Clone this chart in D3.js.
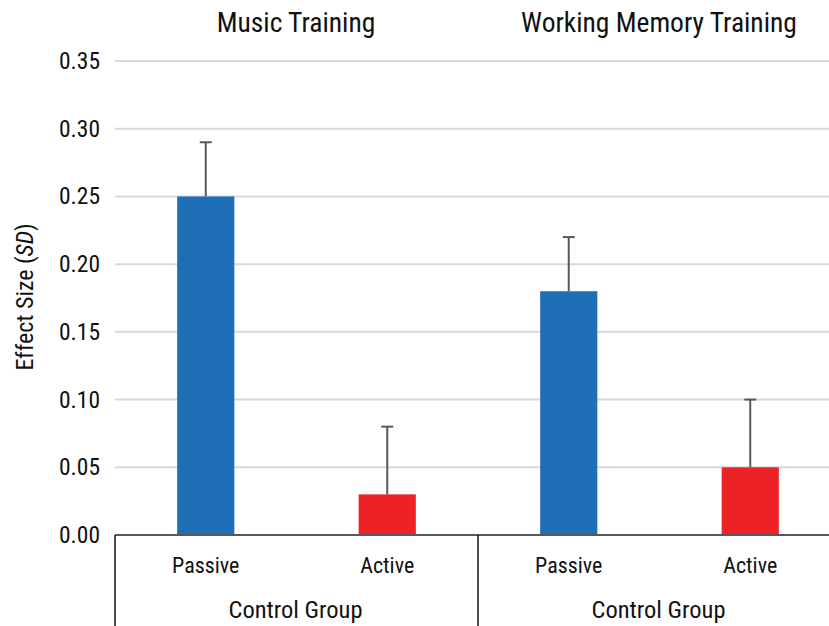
<!DOCTYPE html>
<html><head><meta charset="utf-8">
<script src="https://cdn.jsdelivr.net/npm/d3@7"></script>
<style>
body{margin:0;background:#fff;}
svg{display:block;font-family:"Liberation Sans Narrow","Arial Narrow","Roboto Condensed",sans-serif;}
</style></head>
<body>
<svg id="chart" width="829" height="626"></svg>
<script>
const panels = ["Music Training", "Working Memory Training"];
const conditions = ["Passive", "Active"];
const groupLabel = "Control Group";
const musicValues = [0.25, 0.03];
const musicErrors = [0.04, 0.05];
const wmValues = [0.18, 0.05];
const wmErrors = [0.04, 0.05];
const yTicks = [0, 0.05, 0.10, 0.15, 0.20, 0.25, 0.30, 0.35];
const colors = ["#1f6fb8", "#ec2227"];

const data = [];
[[musicValues, musicErrors], [wmValues, wmErrors]].forEach((pair, p) => {
  conditions.forEach((c, i) => data.push({panel: panels[p], cond: c, value: pair[0][i], err: pair[1][i], color: colors[i]}));
});

const svg = d3.select("#chart");
const mLeft = 115, mRight = 841, mTop = 61, mBottom = 535;

const y = d3.scaleLinear().domain([0, 0.35]).range([mBottom, mTop]);
const xPanel = d3.scaleBand().domain(panels).range([mLeft, mRight]);
const xCond = d3.scaleBand().domain(conditions).range([0, xPanel.bandwidth()]).paddingInner(0.685).paddingOuter(0.3425);

// gridlines
svg.append("g").selectAll("line").data(yTicks.slice(1)).join("line")
  .attr("x1", mLeft).attr("x2", mRight)
  .attr("y1", d => y(d)).attr("y2", d => y(d))
  .attr("stroke", "#d9d9d9").attr("stroke-width", 2);

// y axis labels
const yAxis = d3.axisLeft(y).tickValues(yTicks).tickFormat(d3.format(".2f")).tickSize(0).tickPadding(15);
const ya = svg.append("g").attr("transform", `translate(${mLeft},0)`).call(yAxis);
ya.select(".domain").remove();
ya.attr("font-family", null).attr("font-size", null);
ya.selectAll("text").attr("font-size", 23.5).attr("fill", "#111");

// bars
const xPos = d => xPanel(d.panel) + xCond(d.cond);
svg.append("g").selectAll("rect").data(data).join("rect")
  .attr("x", xPos).attr("width", xCond.bandwidth())
  .attr("y", d => y(d.value)).attr("height", d => y(0) - y(d.value))
  .attr("fill", d => d.color);

// error bars
const eb = svg.append("g").attr("stroke", "#595959").attr("stroke-width", 2);
data.forEach(d => {
  const cx = xPos(d) + xCond.bandwidth() / 2;
  eb.append("line").attr("x1", cx).attr("x2", cx).attr("y1", y(d.value)).attr("y2", y(d.value + d.err));
  eb.append("line").attr("x1", cx - 6).attr("x2", cx + 6).attr("y1", y(d.value + d.err)).attr("y2", y(d.value + d.err));
});

// baseline
svg.append("line").attr("x1", mLeft).attr("x2", mRight).attr("y1", y(0)).attr("y2", y(0))
  .attr("stroke", "#595959").attr("stroke-width", 2);

// category dividers
svg.append("g").selectAll("line").data(panels).join("line")
  .attr("x1", d => xPanel(d)).attr("x2", d => xPanel(d))
  .attr("y1", y(0)).attr("y2", 626)
  .attr("stroke", "#111").attr("stroke-width", 1.5);

// condition labels
svg.append("g").selectAll("text").data(data).join("text")
  .attr("x", d => xPos(d) + xCond.bandwidth() / 2).attr("y", 573)
  .attr("text-anchor", "middle").attr("font-size", 22).attr("fill", "#111")
  .text(d => d.cond);

// group labels
svg.append("g").selectAll("text").data(panels).join("text")
  .attr("x", d => xPanel(d) + xPanel.bandwidth() / 2 - 1).attr("y", 618)
  .attr("text-anchor", "middle").attr("font-size", 24.5).attr("fill", "#111")
  .text(groupLabel);

// panel titles
svg.append("g").selectAll("text").data(panels).join("text")
  .attr("x", d => xPanel(d) + xPanel.bandwidth() / 2 - 0.5).attr("y", 32)
  .attr("text-anchor", "middle").attr("font-size", 27.5).attr("fill", "#111")
  .text(d => d);

// y label
const yl = svg.append("text").attr("transform", "translate(33,297) rotate(-90)")
  .attr("text-anchor", "middle").attr("font-size", 24).attr("fill", "#111");
yl.append("tspan").text("Effect Size (");
yl.append("tspan").attr("font-style", "italic").text("SD");
yl.append("tspan").text(")");
</script>
</body></html>
